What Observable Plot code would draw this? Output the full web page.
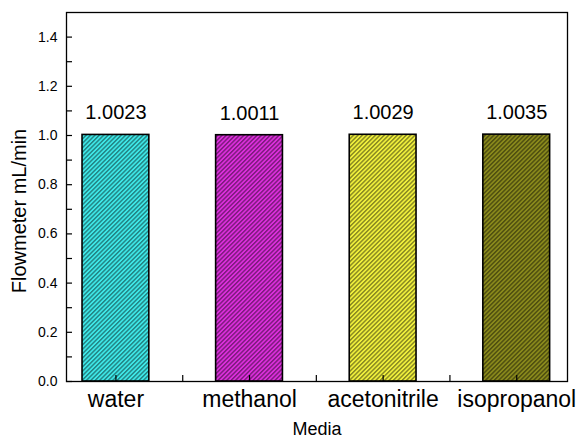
<!DOCTYPE html>
<html>
<head>
<meta charset="utf-8">
<script src="https://cdn.jsdelivr.net/npm/d3@7"></script>
<script src="https://cdn.jsdelivr.net/npm/@observablehq/plot@0.6"></script>
<style>
  body { margin: 0; background: #fff; }
  #chart svg { display: block; }
</style>
</head>
<body>
<div id="chart"></div>
<script>
const categories = ["water", "methanol", "acetonitrile", "isopropanol"];
const values = [1.0023, 1.0011, 1.0029, 1.0035];
const colors = ["#3ee8e8", "#dc2fdc", "#f0f03c", "#8a8a1c"];
const yMajorTicks = [0, 0.2, 0.4, 0.6, 0.8, 1.0, 1.2, 1.4];
const yMinorTicks = [0.1, 0.3, 0.5, 0.7, 0.9, 1.1, 1.3];
const xMajorTicks = [1, 2, 3, 4];
const xMinorTicks = [1.5, 2.5, 3.5];
const yLabel = "Flowmeter mL/min";
const xLabel = "Media";

const data = categories.map((c, i) => ({ pos: i + 1, name: c, value: values[i], color: colors[i] }));

const W = 580, H = 443, mL = 66, mR = 13, mT = 12, mB = 62;
const fw = W - mL - mR, fh = H - mT - mB, tick = 6;
const font = "'Liberation Sans', Arial, sans-serif";

const plot = Plot.plot({
  width: W, height: H,
  marginLeft: mL, marginRight: mR, marginTop: mT, marginBottom: mB,
  style: { fontFamily: font, background: "#fff", color: "#000" },
  x: { type: "linear", domain: [0.63, 4.38], axis: null },
  y: { domain: [0, 1.5], axis: null },
  color: { type: "identity" },
  marks: [
    Plot.rectY(data, { x1: d => d.pos - 0.25, x2: d => d.pos + 0.25, y1: 0, y2: "value", fill: "color" }),
    Plot.rectY(data, { x1: d => d.pos - 0.25, x2: d => d.pos + 0.25, y1: 0, y2: "value", fill: "url(#hatch)", stroke: "#000", strokeWidth: 1.6 }),
    Plot.text(data, { x: "pos", y: "value", text: d => d.value.toFixed(4), dy: -22, fontSize: 20 }),
    Plot.ruleX(xMajorTicks.concat(xMinorTicks), { insetTop: fh - tick, stroke: "#000", strokeWidth: 1.2 }),
    Plot.ruleY(yMajorTicks.concat(yMinorTicks), { insetRight: fw - tick, stroke: "#000", strokeWidth: 1.2 }),
    Plot.axisY({ ticks: yMajorTicks, tickSize: 0, tickPadding: 9, tickFormat: d3.format(".1f"), fontSize: 14, label: null }),
    Plot.axisX({ ticks: xMajorTicks, tickSize: 0, tickPadding: 9, tickFormat: d => categories[d - 1], fontSize: 23, label: null }),
    Plot.text([yLabel], { frameAnchor: "left", textAnchor: "middle", dx: -47, dy: 14, rotate: -90, text: d => d, fontSize: 20 }),
    Plot.text([xLabel], { frameAnchor: "bottom", dy: 53, text: d => d, fontSize: 18 }),
    Plot.frame({ stroke: "#000", strokeWidth: 1.3 })
  ]
});

const svg = d3.select(plot);
const defs = svg.insert("defs", ":first-child");
const pat = defs.append("pattern")
  .attr("id", "hatch")
  .attr("patternUnits", "userSpaceOnUse")
  .attr("width", 3.1).attr("height", 10)
  .attr("patternTransform", "rotate(45)");
pat.append("line")
  .attr("x1", 1.5).attr("y1", -1).attr("x2", 1.5).attr("y2", 11)
  .attr("stroke", "#000").attr("stroke-opacity", 0.45).attr("stroke-width", 1.4);

document.getElementById("chart").appendChild(plot);
</script>
</body>
</html>
